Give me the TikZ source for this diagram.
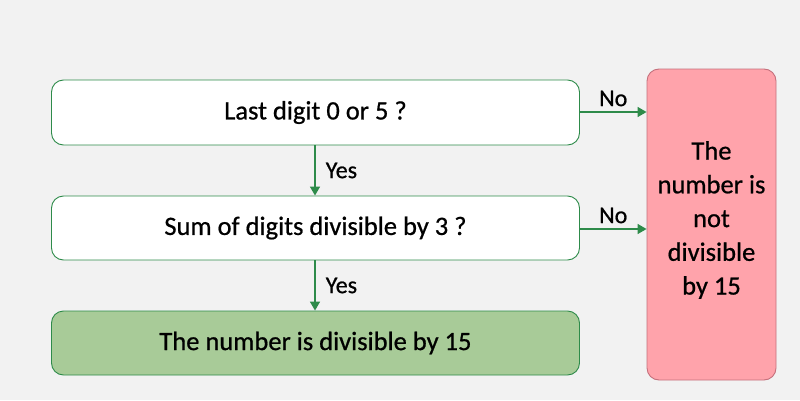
\documentclass[tikz,border=0pt]{standalone}
\usepackage{fontspec}
\setmainfont{Carlito}[RawFeature={embolden=0.7}]
\usetikzlibrary{arrows.meta}
\definecolor{bg}{HTML}{F2F2F2}
\definecolor{gline}{HTML}{2E8B4A}
\definecolor{gfill}{HTML}{A8CB98}
\definecolor{rfill}{HTML}{FFA3AB}
\definecolor{rline}{HTML}{C4707C}
\tikzset{
  box/.style={draw=gline, line width=0.9pt, rounded corners=12pt, fill=white, font=\fontsize{26.5}{30}\selectfont, align=center, inner sep=0pt},
  conn/.style={draw=gline, line width=1.5pt, -{Triangle[length=9pt,width=10pt]}},
  lbl/.style={font=\fontsize{24}{26}\selectfont, inner sep=0pt}
}
\begin{document}
\begin{tikzpicture}[x=1pt,y=1pt]
\fill[bg] (0,0) rectangle (800,400);
\useasboundingbox (0,0) rectangle (800,400);
\node[box, minimum width=528pt, minimum height=65pt] (q1) at (315.5,287.5) {Last digit 0 or 5 ?};
\node[box, minimum width=528pt, minimum height=64pt] (q2) at (315.5,172) {Sum of digits divisible by 3 ?};
\node[box, fill=gfill, minimum width=528pt, minimum height=64pt] (yes) at (315.5,57) {The number is divisible by 15};
\node[box, draw=rline, fill=rfill, minimum width=129pt, minimum height=311pt] (no) at (711.5,175.5) {};
\node[font=\fontsize{26.5}{33.75}\selectfont, align=center, inner sep=0pt] (notext) at (711.5,180) {The\\number is\\not\\divisible\\by 15};
\draw[conn] (q1.south -| 315,0) -- (q2.north -| 315,0) node[lbl, midway, right=10pt] {Yes};
\draw[conn] (q2.south -| 315,0) -- (yes.north -| 315,0) node[lbl, midway, right=10pt] {Yes};
\draw[conn] (q1.east |- 0,288) -- (no.west |- 0,288) node[lbl, midway, above=5pt] {No};
\draw[conn] (q2.east |- 0,171) -- (no.west |- 0,171) node[lbl, midway, above=5pt] {No};
\end{tikzpicture}
\end{document}
